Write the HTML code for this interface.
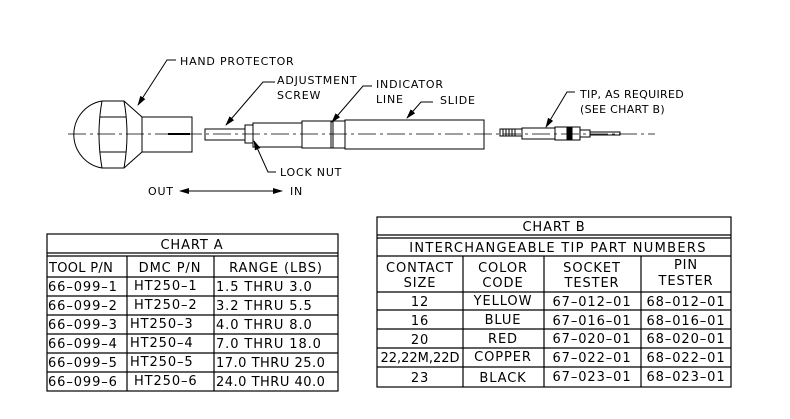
<!DOCTYPE html>
<html><head><meta charset="utf-8"><style>
html,body{margin:0;padding:0;background:#fff;}
svg{display:block;}
text{font-family:"DejaVu Sans","Liberation Sans",sans-serif;fill:#000;}
.t{font-size:13px;letter-spacing:0.9px;}
</style></head><body>
<svg width="790" height="419" viewBox="0 0 790 419" xmlns="http://www.w3.org/2000/svg">
<defs><marker id="ar" markerWidth="10" markerHeight="6" refX="9" refY="3" orient="auto" markerUnits="userSpaceOnUse"><path d="M0,0 L10,3 L0,6 Z" fill="#000"/></marker></defs>
<g stroke="#000" fill="none" stroke-width="1">
<line x1="68" y1="134" x2="655" y2="134" stroke-dasharray="18,4,3,4" stroke-width="0.8"/>
<path d="M102,101 L124,101 L142,117 L142,152 L124,168 L102,168 A34,34 0 0 1 102,101 Z"/>
<path d="M102,101 Q96,134 102,168 M124,101 Q130,134 124,168 M100,117 L126,117 M100,152 L126,152"/>
<rect x="142" y="117" width="50" height="35"/>
<line x1="168" y1="134" x2="190" y2="134" stroke-width="2"/>
<rect x="205" y="129" width="40" height="11"/>
<rect x="245" y="125" width="8" height="18"/>
<rect x="253" y="123" width="49" height="24"/>
<rect x="302" y="121" width="43" height="27"/>
<line x1="331" y1="121" x2="331" y2="148"/><line x1="333" y1="121" x2="333" y2="148"/>
<rect x="345" y="120" width="139" height="29"/>
<rect x="500" y="129" width="22" height="7"/>
<path d="M503,129 v7 M506,129 v7 M509,129 v7 M512,129 v7 M515,129 v7"/>
<rect x="522" y="128" width="33" height="11"/>
<rect x="555" y="127" width="25" height="13"/>
<rect x="567" y="127" width="5" height="13" fill="#000"/>
<rect x="580" y="130" width="10" height="7"/>
<rect x="590" y="132" width="30" height="3"/>
<polyline points="176,60 167,60 138,105" marker-end="url(#ar)"/>
<polyline points="275,82 263,82 226,125" marker-end="url(#ar)"/>
<polyline points="372,86 363,86 332,122" marker-end="url(#ar)"/>
<polyline points="433,102 421,102 407,118" marker-end="url(#ar)"/>
<polyline points="276,172 268,172 254,141" marker-end="url(#ar)"/>
<polyline points="575,92 567,92 546,127" marker-end="url(#ar)"/>
<line x1="200" y1="191" x2="180" y2="191" marker-end="url(#ar)"/>
<line x1="200" y1="191" x2="282" y2="191" marker-end="url(#ar)"/>
</g>
<g font-size="11" letter-spacing="0.8">
<text x="180" y="65">HAND PROTECTOR</text>
<text x="277" y="84">ADJUSTMENT</text>
<text x="277" y="99">SCREW</text>
<text x="376" y="88">INDICATOR</text>
<text x="376" y="103">LINE</text>
<text x="440" y="104">SLIDE</text>
<text x="280" y="176">LOCK NUT</text>
<text x="148" y="195">OUT</text>
<text x="290" y="195">IN</text>
<text x="580" y="98" letter-spacing="0.3">TIP, AS REQUIRED</text>
<text x="580" y="113" letter-spacing="0.3">(SEE CHART B)</text>
</g>
<g stroke="#000" fill="none" stroke-width="1.2">
<rect x="47" y="234" width="291" height="157"/>
<line x1="47" y1="253" x2="338" y2="253"/><line x1="47" y1="256" x2="338" y2="256"/>
<line x1="47" y1="277" x2="338" y2="277"/><line x1="47" y1="296" x2="338" y2="296"/>
<line x1="47" y1="315" x2="338" y2="315"/><line x1="47" y1="334" x2="338" y2="334"/>
<line x1="47" y1="353" x2="338" y2="353"/><line x1="47" y1="372" x2="338" y2="372"/>
<line x1="127" y1="256" x2="127" y2="391"/><line x1="214" y1="256" x2="214" y2="391"/>
</g>
<g class="t">
<text x="192" y="249" text-anchor="middle">CHART A</text>
<text x="49" y="272" letter-spacing="0.3">TOOL P/N</text><text x="170" y="272" text-anchor="middle">DMC P/N</text><text x="276" y="272" text-anchor="middle">RANGE (LBS)</text>
<text x="48" y="291">66–099–1</text><text x="134" y="290">HT250–1</text><text x="216" y="291">1.5 THRU 3.0</text>
<text x="48" y="310">66–099–2</text><text x="134" y="309">HT250–2</text><text x="216" y="310">3.2 THRU 5.5</text>
<text x="48" y="329">66–099–3</text><text x="130" y="328">HT250–3</text><text x="216" y="329">4.0 THRU 8.0</text>
<text x="48" y="348">66–099–4</text><text x="130" y="347">HT250–4</text><text x="216" y="348">7.0 THRU 18.0</text>
<text x="48" y="367">66–099–5</text><text x="130" y="366">HT250–5</text><text x="216" y="367" letter-spacing="0.5">17.0 THRU 25.0</text>
<text x="48" y="386">66–099–6</text><text x="134" y="385">HT250–6</text><text x="216" y="386" letter-spacing="0.5">24.0 THRU 40.0</text>
</g>
<g stroke="#000" fill="none" stroke-width="1.2">
<rect x="377" y="217" width="354" height="170"/>
<line x1="377" y1="235" x2="731" y2="235"/><line x1="377" y1="238" x2="731" y2="238"/>
<line x1="377" y1="256" x2="731" y2="256"/><line x1="377" y1="292" x2="731" y2="292"/>
<line x1="377" y1="310" x2="731" y2="310"/><line x1="377" y1="329" x2="731" y2="329"/>
<line x1="377" y1="348" x2="731" y2="348"/><line x1="377" y1="367" x2="731" y2="367"/>
<line x1="463" y1="256" x2="463" y2="387"/><line x1="544" y1="256" x2="544" y2="387"/><line x1="641" y1="256" x2="641" y2="387"/>
</g>
<g class="t" text-anchor="middle">
<text x="554" y="231">CHART B</text>
<text x="558" y="252" letter-spacing="1.3">INTERCHANGEABLE TIP PART NUMBERS</text>
<text x="420" y="272">CONTACT</text><text x="420" y="287">SIZE</text>
<text x="503" y="272">COLOR</text><text x="503" y="287">CODE</text>
<text x="592" y="272">SOCKET</text><text x="592" y="287">TESTER</text>
<text x="686" y="269">PIN</text><text x="686" y="285">TESTER</text>
<text x="420" y="306">12</text><text x="503" y="305">YELLOW</text><text x="592" y="306">67–012–01</text><text x="686" y="306">68–012–01</text>
<text x="420" y="325">16</text><text x="503" y="324">BLUE</text><text x="592" y="325">67–016–01</text><text x="686" y="325">68–016–01</text>
<text x="420" y="344">20</text><text x="503" y="343">RED</text><text x="592" y="343">67–020–01</text><text x="686" y="343">68–020–01</text>
<text x="420" y="362" letter-spacing="0">22,22M,22D</text><text x="503" y="361">COPPER</text><text x="592" y="362">67–022–01</text><text x="686" y="362">68–022–01</text>
<text x="420" y="382">23</text><text x="503" y="382">BLACK</text><text x="592" y="381">67–023–01</text><text x="686" y="381">68–023–01</text>
</g>
</svg>
</body></html>
